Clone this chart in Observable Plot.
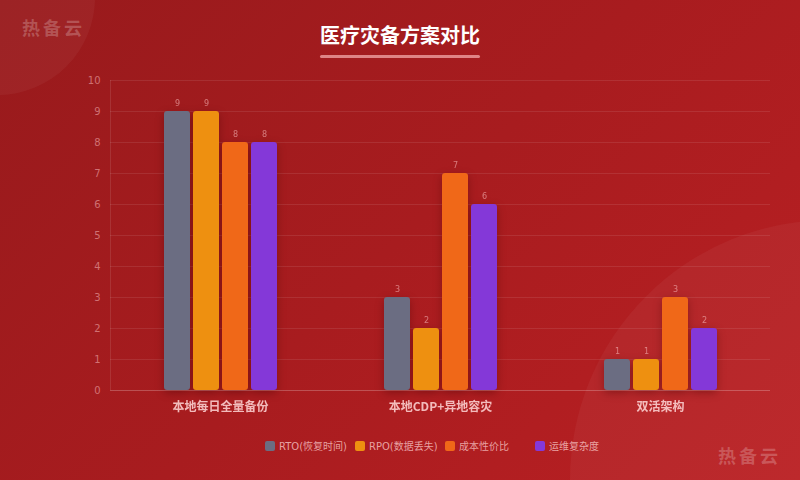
<!DOCTYPE html>
<html><head><meta charset="utf-8">
<script src="https://cdn.jsdelivr.net/npm/d3@7"></script>
<script src="https://cdn.jsdelivr.net/npm/@observablehq/plot@0.6"></script>
<style>
html,body{margin:0;padding:0;}
#wrap{position:relative;width:800px;height:480px;overflow:hidden;background:linear-gradient(135deg,#981a1c 0%,#a81c1f 50%,#ba2023 100%);font-family:"Noto Sans CJK SC","Noto Sans",sans-serif;}
.circ{position:absolute;border-radius:50%;background:rgba(255,255,255,0.045);}
#title{position:absolute;left:0;width:800px;top:20px;text-align:center;color:#fff;font-size:20px;font-weight:bold;line-height:30px;}
#uline{position:absolute;left:320px;top:55px;width:160px;height:3px;border-radius:2px;background:rgba(255,190,190,0.65);}
.wm{position:absolute;color:rgba(255,255,255,0.22);font-size:18px;font-weight:bold;letter-spacing:3px;}
#chart{position:absolute;left:0;top:70px;}
#legend{position:absolute;left:265px;top:438px;display:flex;}
.li{width:90px;display:flex;align-items:center;font-size:10px;color:rgba(255,215,215,0.72);font-family:"DejaVu Sans","Noto Sans CJK SC",sans-serif;white-space:nowrap;}
.sw{width:10px;height:10px;border-radius:2px;margin-right:4px;flex:none;}
</style></head>
<body><div id="wrap">
<div class="circ" style="left:-100px;top:-100px;width:195px;height:195px;"></div>
<div class="circ" style="left:570px;top:220px;width:520px;height:520px;"></div>
<div class="wm" style="left:22px;top:14px;">热备云</div>
<div class="wm" style="left:718px;top:442px;">热备云</div>
<div id="title">医疗灾备方案对比</div>
<div id="uline"></div>
<div id="chart"></div>
<div id="legend"></div>
</div>
<script>
const groups = ["本地每日全量备份", "本地CDP+异地容灾", "双活架构"];
const metrics = ["RTO(恢复时间)", "RPO(数据丢失)", "成本性价比", "运维复杂度"];
const colors = ["#6b6d82", "#ee9010", "#f06818", "#8438d8"];
const rtoValues = [9, 3, 1];
const rpoValues = [9, 2, 1];
const costValues = [8, 7, 3];
const opsValues = [8, 6, 2];
const yTicks = [0,1,2,3,4,5,6,7,8,9,10];

const series = [rtoValues, rpoValues, costValues, opsValues];
const data = [];
groups.forEach((g, gi) => metrics.forEach((m, mi) => data.push({group: g, metric: m, value: series[mi][gi]})));

const latin = "'DejaVu Sans','Noto Sans CJK SC',sans-serif";
const chart = Plot.plot({
  width: 800, height: 350,
  marginTop: 10, marginBottom: 30, marginLeft: 110, marginRight: 30,
  style: {background: "transparent", fontFamily: "'Noto Sans CJK SC','Noto Sans',sans-serif", overflow: "visible"},
  fx: {domain: groups, padding: 0, label: null},
  x: {domain: metrics, paddingInner: 3/29, paddingOuter: 1.80, axis: null},
  y: {domain: [0, 10], ticks: yTicks, label: null},
  color: {domain: metrics, range: colors},
  marks: [
    Plot.gridY(yTicks, {stroke: "rgba(255,255,255,0.09)", strokeOpacity: 1}),
    Plot.axisY(yTicks, {tickSize: 0, tickPadding: 10, fill: "rgba(255,200,200,0.5)", fontSize: 10, fontFamily: latin, label: null}),
    Plot.barY(data, {fx: "group", x: "metric", y: "value", fill: "metric", rx: 3}),
    Plot.text(data, {fx: "group", x: "metric", y: "value", text: d => String(d.value), dy: -8, fontSize: 8, fontFamily: latin, fill: "rgba(255,200,200,0.55)"}),
    Plot.ruleY([0], {stroke: "rgba(255,255,255,0.16)"}),
    Plot.axisFx({anchor: "bottom", tickSize: 0, tickPadding: 12, fontSize: 12, fontWeight: "bold", fontFamily: "'Noto Sans CJK SC',sans-serif", fill: "rgba(255,215,215,0.85)", label: null})
  ]
});
document.getElementById("chart").appendChild(chart);
chart.querySelectorAll('g[aria-label="bar"]').forEach(g => g.style.filter = "drop-shadow(0px 3px 4px rgba(60,0,0,0.35))");
// left axis line drawn from the chart's own scales
const ys = chart.scale("y");
const xLeft = 110;
d3.select(chart).insert("line", ":first-child")
  .attr("x1", xLeft + 0.5).attr("x2", xLeft + 0.5)
  .attr("y1", ys.apply(10)).attr("y2", ys.apply(0))
  .attr("stroke", "rgba(255,255,255,0.1)");

const leg = document.getElementById("legend");
metrics.forEach((m, i) => {
  const d = document.createElement("div"); d.className = "li";
  d.innerHTML = `<span class="sw" style="background:${colors[i]}"></span><span>${m}</span>`;
  leg.appendChild(d);
});
</script>
</body></html>
